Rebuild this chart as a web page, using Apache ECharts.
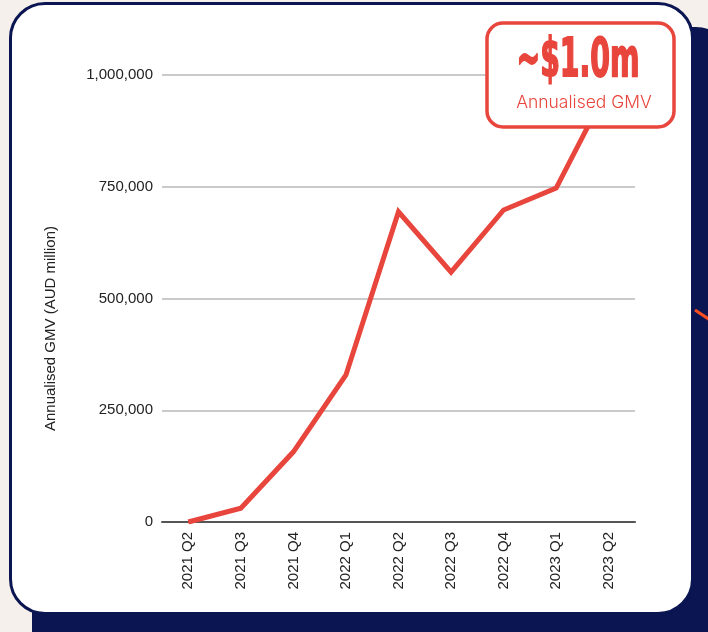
<!DOCTYPE html>
<html>
<head>
<meta charset="utf-8">
<script src="https://cdn.jsdelivr.net/npm/echarts@6/dist/echarts.min.js"></script>
<style>
  html, body { margin: 0; padding: 0; background: #f5f0eb; }
  #wrap { position: relative; width: 708px; height: 632px; overflow: hidden; background: #f5f0eb; }
  #shadow { position: absolute; left: 32px; top: 27px; width: 700px; height: 640px; background: #0a1552; border-radius: 36px; }
  #card { position: absolute; left: 9px; top: 2px; width: 679px; height: 607px; background: #fff; border: 3px solid #0a1552; border-radius: 36px; }
  #chart { position: absolute; left: 0; top: 0; width: 708px; height: 632px; }
</style>
</head>
<body>
<div id="wrap">
  <div id="shadow"></div>
  <div id="card"></div>
  <div id="chart"></div>
</div>
<script>
const categories = ['2021 Q2', '2021 Q3', '2021 Q4', '2022 Q1', '2022 Q2', '2022 Q3', '2022 Q4', '2023 Q1', '2023 Q2'];
const gmvValues = [0, 31000, 157000, 329000, 694000, 559000, 698000, 747000, 975000];
const yTicks = [0, 250000, 500000, 750000, 1000000];
const yAxisTitle = 'Annualised GMV (AUD million)';
const calloutValue = '~$1.0m';
const calloutLabel = 'Annualised GMV';

const chart = echarts.init(document.getElementById('chart'), null, { renderer: 'canvas' });
const font = 'Liberation Sans, Arial, sans-serif';
chart.setOption({
  backgroundColor: 'transparent',
  animation: false,
  grid: { left: 162, right: 73, top: 75, bottom: 110 },
  xAxis: {
    type: 'category',
    data: categories,
    boundaryGap: true,
    axisLine: { show: true, lineStyle: { color: '#555', width: 2 } },
    axisTick: { show: false },
    axisLabel: { rotate: 90, margin: 10, color: '#222', fontSize: 15, fontFamily: font, interval: 0 }
  },
  yAxis: {
    type: 'value',
    min: yTicks[0],
    max: yTicks[yTicks.length - 1],
    interval: yTicks[1] - yTicks[0],
    name: yAxisTitle,
    nameLocation: 'middle',
    nameGap: 104,
    nameRotate: 90,
    nameTextStyle: { color: '#222', fontSize: 15, fontFamily: font, padding: [0, 60, 0, 0] },
    axisLine: { show: false },
    axisTick: { show: false },
    axisLabel: {
      margin: 9, color: '#222', fontSize: 15, fontFamily: font,
      formatter: v => v.toLocaleString('en-US')
    },
    splitLine: { show: true, lineStyle: { color: '#b8b8b8', width: 1.5 } }
  },
  series: [{
    type: 'line',
    data: gmvValues,
    showSymbol: false,
    symbol: 'none',
    lineStyle: { color: '#e8453c', width: 5, join: 'miter' },
    z: 2
  }],
  graphic: [
    {
      type: 'line', z: 50,
      shape: { x1: 695, y1: 310, x2: 710, y2: 320 },
      style: { stroke: '#ff4f1f', lineWidth: 3 }
    },
    {
      type: 'rect', z: 100,
      shape: { x: 487, y: 23, width: 187, height: 104, r: 16 },
      style: { fill: '#fff', stroke: '#e8453c', lineWidth: 3.5 }
    },
    {
      type: 'text', z: 101,
      x: 578, y: 62, scaleX: 0.7, scaleY: 1.18,
      style: {
        text: calloutValue, fill: '#e8453c',
        stroke: '#e8453c', lineWidth: 1.5,
        font: 'bold 45px "DejaVu Sans Condensed", "DejaVu Sans", sans-serif',
        align: 'center', verticalAlign: 'middle'
      }
    },
    {
      type: 'text', z: 101,
      x: 584, y: 103,
      style: {
        text: calloutLabel, fill: '#e8453c',
        font: '300 17.5px Inter, "Liberation Sans", sans-serif',
        align: 'center', verticalAlign: 'middle'
      }
    }
  ]
});
</script>
</body>
</html>
